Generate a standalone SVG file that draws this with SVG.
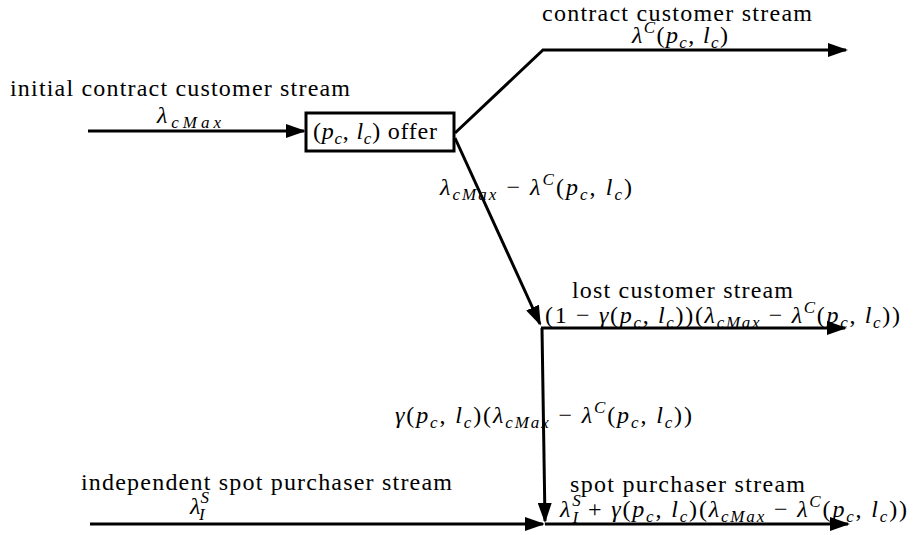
<svg xmlns="http://www.w3.org/2000/svg" width="915" height="535" viewBox="0 0 915 535">
<style>
text{font-family:'Liberation Serif','DejaVu Serif','Times New Roman',serif;font-size:24px;fill:#000}
.i{font-style:italic}
.s{font-size:17px}
.ln{fill:none;stroke:#000;stroke-width:3}
</style>
<defs>
<marker id="ah" markerUnits="userSpaceOnUse" viewBox="0 0 20 14" markerWidth="20" markerHeight="14" refX="18" refY="7" orient="auto"><path d="M0,0 L20,7 L0,14 z" fill="#000"/></marker>
</defs>
<rect width="915" height="535" fill="#fff"/>
<g id="connectors">
<path class="ln" d="M88,131 L304,131" marker-end="url(#ah)"/>
<path class="ln" d="M455,133 L543,50 L846,50" marker-end="url(#ah)"/>
<path class="ln" d="M455,138 L540,324" marker-end="url(#ah)"/>
<path class="ln" d="M541,328 L845,328" marker-end="url(#ah)"/>
<path class="ln" d="M542,328 L545,521" marker-end="url(#ah)"/>
<path class="ln" d="M90,524 L543,524" marker-end="url(#ah)"/>
<path class="ln" d="M545,524 L848,524" marker-end="url(#ah)"/>
</g>
<g id="offer">
<rect x="306" y="113" width="148" height="38" fill="#fff" stroke="#000" stroke-width="3"/>
<text x="313" y="139" textLength="124">(<tspan class="i">p</tspan><tspan class="s i" dy="5">c</tspan><tspan dy="-5">, </tspan><tspan class="i">l</tspan><tspan class="s i" dy="5">c</tspan><tspan dy="-5">) offer</tspan></text>
</g>
<g id="initial-stream">
<text x="10" y="96" textLength="340">initial contract customer stream</text>
<text x="157" y="123" textLength="64"><tspan class="i">λ</tspan><tspan class="s i" dy="5">cMax</tspan></text>
</g>
<g id="contract-stream">
<text x="542" y="21" textLength="270">contract customer stream</text>
<text x="632" y="43" textLength="96"><tspan class="i">λ</tspan><tspan class="s i" dy="-10">C</tspan><tspan dy="10">(</tspan><tspan class="i">p</tspan><tspan class="s i" dy="5">c</tspan><tspan dy="-5">, </tspan><tspan class="i">l</tspan><tspan class="s i" dy="5">c</tspan><tspan dy="-5">)</tspan></text>
</g>
<g id="rejected-stream">
<text x="440" y="195" textLength="192"><tspan class="i">λ</tspan><tspan class="s i" dy="5">cMax</tspan><tspan dy="-5"> − </tspan><tspan class="i">λ</tspan><tspan class="s i" dy="-10">C</tspan><tspan dy="10">(</tspan><tspan class="i">p</tspan><tspan class="s i" dy="5">c</tspan><tspan dy="-5">, </tspan><tspan class="i">l</tspan><tspan class="s i" dy="5">c</tspan><tspan dy="-5">)</tspan></text>
</g>
<g id="lost-stream">
<text x="572" y="298" textLength="221">lost customer stream</text>
<text x="545" y="323" textLength="355">(1 − <tspan class="i">γ</tspan>(<tspan class="i">p</tspan><tspan class="s i" dy="5">c</tspan><tspan dy="-5">, </tspan><tspan class="i">l</tspan><tspan class="s i" dy="5">c</tspan><tspan dy="-5">))(</tspan><tspan class="i">λ</tspan><tspan class="s i" dy="5">cMax</tspan><tspan dy="-5"> − </tspan><tspan class="i">λ</tspan><tspan class="s i" dy="-10">C</tspan><tspan dy="10">(</tspan><tspan class="i">p</tspan><tspan class="s i" dy="5">c</tspan><tspan dy="-5">, </tspan><tspan class="i">l</tspan><tspan class="s i" dy="5">c</tspan><tspan dy="-5">))</tspan></text>
</g>
<g id="converted-stream">
<text x="395" y="423" textLength="297"><tspan class="i">γ</tspan>(<tspan class="i">p</tspan><tspan class="s i" dy="5">c</tspan><tspan dy="-5">, </tspan><tspan class="i">l</tspan><tspan class="s i" dy="5">c</tspan><tspan dy="-5">)(</tspan><tspan class="i">λ</tspan><tspan class="s i" dy="5">cMax</tspan><tspan dy="-5"> − </tspan><tspan class="i">λ</tspan><tspan class="s i" dy="-10">C</tspan><tspan dy="10">(</tspan><tspan class="i">p</tspan><tspan class="s i" dy="5">c</tspan><tspan dy="-5">, </tspan><tspan class="i">l</tspan><tspan class="s i" dy="5">c</tspan><tspan dy="-5">))</tspan></text>
</g>
<g id="independent-stream">
<text x="81" y="490" textLength="371">independent spot purchaser stream</text>
<text x="190" y="514"><tspan class="i">λ</tspan><tspan class="s i" dy="-11">S</tspan><tspan class="s i" dx="-10" dy="17">I</tspan></text>
</g>
<g id="spot-stream">
<text x="570" y="492" textLength="235">spot purchaser stream</text>
<text x="560" y="517" textLength="347"><tspan class="i">λ</tspan><tspan class="s i" dy="-11">S</tspan><tspan class="s i" dx="-10" dy="17">I</tspan><tspan dy="-6"> + </tspan><tspan class="i">γ</tspan>(<tspan class="i">p</tspan><tspan class="s i" dy="5">c</tspan><tspan dy="-5">, </tspan><tspan class="i">l</tspan><tspan class="s i" dy="5">c</tspan><tspan dy="-5">)(</tspan><tspan class="i">λ</tspan><tspan class="s i" dy="5">cMax</tspan><tspan dy="-5"> − </tspan><tspan class="i">λ</tspan><tspan class="s i" dy="-10">C</tspan><tspan dy="10">(</tspan><tspan class="i">p</tspan><tspan class="s i" dy="5">c</tspan><tspan dy="-5">, </tspan><tspan class="i">l</tspan><tspan class="s i" dy="5">c</tspan><tspan dy="-5">))</tspan></text>
</g>
</svg>
